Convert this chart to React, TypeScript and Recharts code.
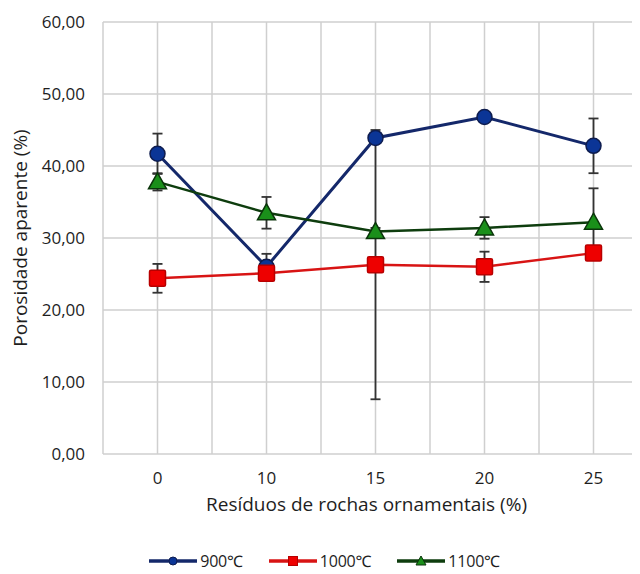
import React from 'react';
import { LineChart, Line, XAxis, YAxis, CartesianGrid, ErrorBar } from 'recharts';

const categories = ['0', '10', '15', '20', '25'];
const s900 = [41.7, 26.0, 43.9, 46.8, 42.8];
const e900 = [2.8, 1.8, 0.3, 0.5, 3.8];
const s1000 = [24.4, 25.1, 26.3, 26.0, 27.9];
const e1000 = [2.0, 0.5, 18.7, 2.1, 0.5];
const s1100 = [37.8, 33.5, 30.9, 31.4, 32.2];
const e1100 = [1.2, 2.2, 0.5, 1.5, 4.7];
const yTicks = [0, 10, 20, 30, 40, 50, 60];
const seriesNames = ['900℃', '1000℃', '1100℃'];

const data = categories.map((c, i) => ({
  idx: i,
  cat: c,
  v900: s900[i],
  e900: e900[i],
  v1000: s1000[i],
  e1000: e1000[i],
  v1100: s1100[i],
  e1100: e1100[i],
}));

const xTicks: number[] = [];
for (let i = -1; i <= 2 * categories.length - 1; i++) xTicks.push(i / 2);

const FONT = '"Open Sans", "Noto Sans", sans-serif';
const TEXT = '#1e1e1e';

const NAVY_LINE = '#14286a';
const NAVY_FILL = '#0b3596';
const NAVY_STROKE = '#0e1c4e';
const RED_LINE = '#d81414';
const RED_FILL = '#ee0000';
const RED_STROKE = '#b80000';
const GREEN_LINE = '#0e3d0e';
const GREEN_FILL = '#1a8f1a';
const GREEN_STROKE = '#0a350a';

const CircleDot = (props: any) => {
  const { cx, cy, index } = props;
  if (cx == null || cy == null) return null;
  return <circle key={'c' + index} cx={cx} cy={cy} r={7.5} fill={NAVY_FILL} stroke={NAVY_STROKE} strokeWidth={1.5} />;
};
const SquareDot = (props: any) => {
  const { cx, cy, index } = props;
  if (cx == null || cy == null) return null;
  return <rect key={'s' + index} x={cx - 8} y={cy - 8} width={16} height={16} rx={1.5} fill={RED_FILL} stroke={RED_STROKE} strokeWidth={1.5} />;
};
const TriDot = (props: any) => {
  const { cx, cy, index } = props;
  if (cx == null || cy == null) return null;
  const pts = `${cx},${cy - 9} ${cx + 9},${cy + 7} ${cx - 9},${cy + 7}`;
  return <polygon key={'t' + index} points={pts} fill={GREEN_FILL} stroke={GREEN_STROKE} strokeWidth={1.5} />;
};

const LegendItem = ({ color, fill, stroke, shape, label }: any) => (
  <div style={{ display: 'flex', alignItems: 'center', height: 16 }}>
    <svg width={50} height={16}>
      <line x1={1} y1={8} x2={49} y2={8} stroke={color} strokeWidth={3.5} />
      {shape === 'circle' && <circle cx={25} cy={8} r={4} fill={fill} stroke={stroke} strokeWidth={1} />}
      {shape === 'square' && <rect x={20.5} y={3.5} width={9} height={9} fill={fill} stroke={stroke} strokeWidth={1} />}
      {shape === 'tri' && <polygon points="25,3 30,12 20,12" fill={fill} stroke={stroke} strokeWidth={1} />}
    </svg>
    <span style={{ fontFamily: FONT, fontSize: 16, lineHeight: '16px', color: TEXT, marginLeft: 2, letterSpacing: -0.2 }}>{label}</span>
  </div>
);

export default function App() {
  return (
    <div style={{ position: 'relative', width: 632, height: 566, overflow: 'hidden' }}>
      <LineChart width={660} height={520} data={data} margin={{ top: 14, right: 20, left: 0, bottom: 0 }}>
        <CartesianGrid stroke="#cfcfcf" strokeWidth={1.5} />
        <XAxis
          type="number"
          dataKey="idx"
          domain={[-0.5, categories.length - 0.5]}
          ticks={xTicks}
          interval={0}
          tickFormatter={(v: number) => (Number.isInteger(v) ? categories[v] : '')}
          axisLine={false}
          tickLine={false}
          tickSize={6}
          tickMargin={12}
          height={74}
          tick={{ fontFamily: FONT, fontSize: 17, fill: TEXT }}
          label={{ value: 'Resíduos de rochas ornamentais (%)', position: 'insideBottom', offset: 17, dx: -9, style: { fontFamily: FONT, fontSize: 19, fill: TEXT } }}
        />
        <YAxis
          type="number"
          domain={[0, 60]}
          ticks={yTicks}
          interval={0}
          tickFormatter={(v: number) => v.toFixed(2).replace('.', ',')}
          axisLine={false}
          tickLine={false}
          tickSize={6}
          tickMargin={12}
          width={95}
          tick={{ fontFamily: FONT, fontSize: 17, fill: TEXT }}
          label={{ value: 'Porosidade aparente (%)', angle: -90, position: 'insideLeft', offset: 12, style: { fontFamily: FONT, fontSize: 19, fill: TEXT, textAnchor: 'middle' } }}
        />
        <Line dataKey="v900" name={seriesNames[0]} stroke={NAVY_LINE} strokeWidth={3} dot={CircleDot} isAnimationActive={false}>
          <ErrorBar dataKey="e900" direction="y" width={5} stroke="#333" strokeWidth={1.8} />
        </Line>
        <Line dataKey="v1000" name={seriesNames[1]} stroke={RED_LINE} strokeWidth={2.5} dot={SquareDot} isAnimationActive={false}>
          <ErrorBar dataKey="e1000" direction="y" width={5} stroke="#333" strokeWidth={1.8} />
        </Line>
        <Line dataKey="v1100" name={seriesNames[2]} stroke={GREEN_LINE} strokeWidth={2.5} dot={TriDot} isAnimationActive={false}>
          <ErrorBar dataKey="e1100" direction="y" width={5} stroke="#333" strokeWidth={1.8} />
        </Line>
      </LineChart>
      <div style={{ position: 'absolute', top: 545, left: 0, width: 632, display: 'flex', justifyContent: 'center', gap: 25 }}>
        <LegendItem color={NAVY_LINE} fill={NAVY_FILL} stroke={NAVY_STROKE} shape="circle" label={seriesNames[0]} />
        <LegendItem color={RED_LINE} fill={RED_FILL} stroke={RED_STROKE} shape="square" label={seriesNames[1]} />
        <LegendItem color={GREEN_LINE} fill={GREEN_FILL} stroke={GREEN_STROKE} shape="tri" label={seriesNames[2]} />
      </div>
    </div>
  );
}
